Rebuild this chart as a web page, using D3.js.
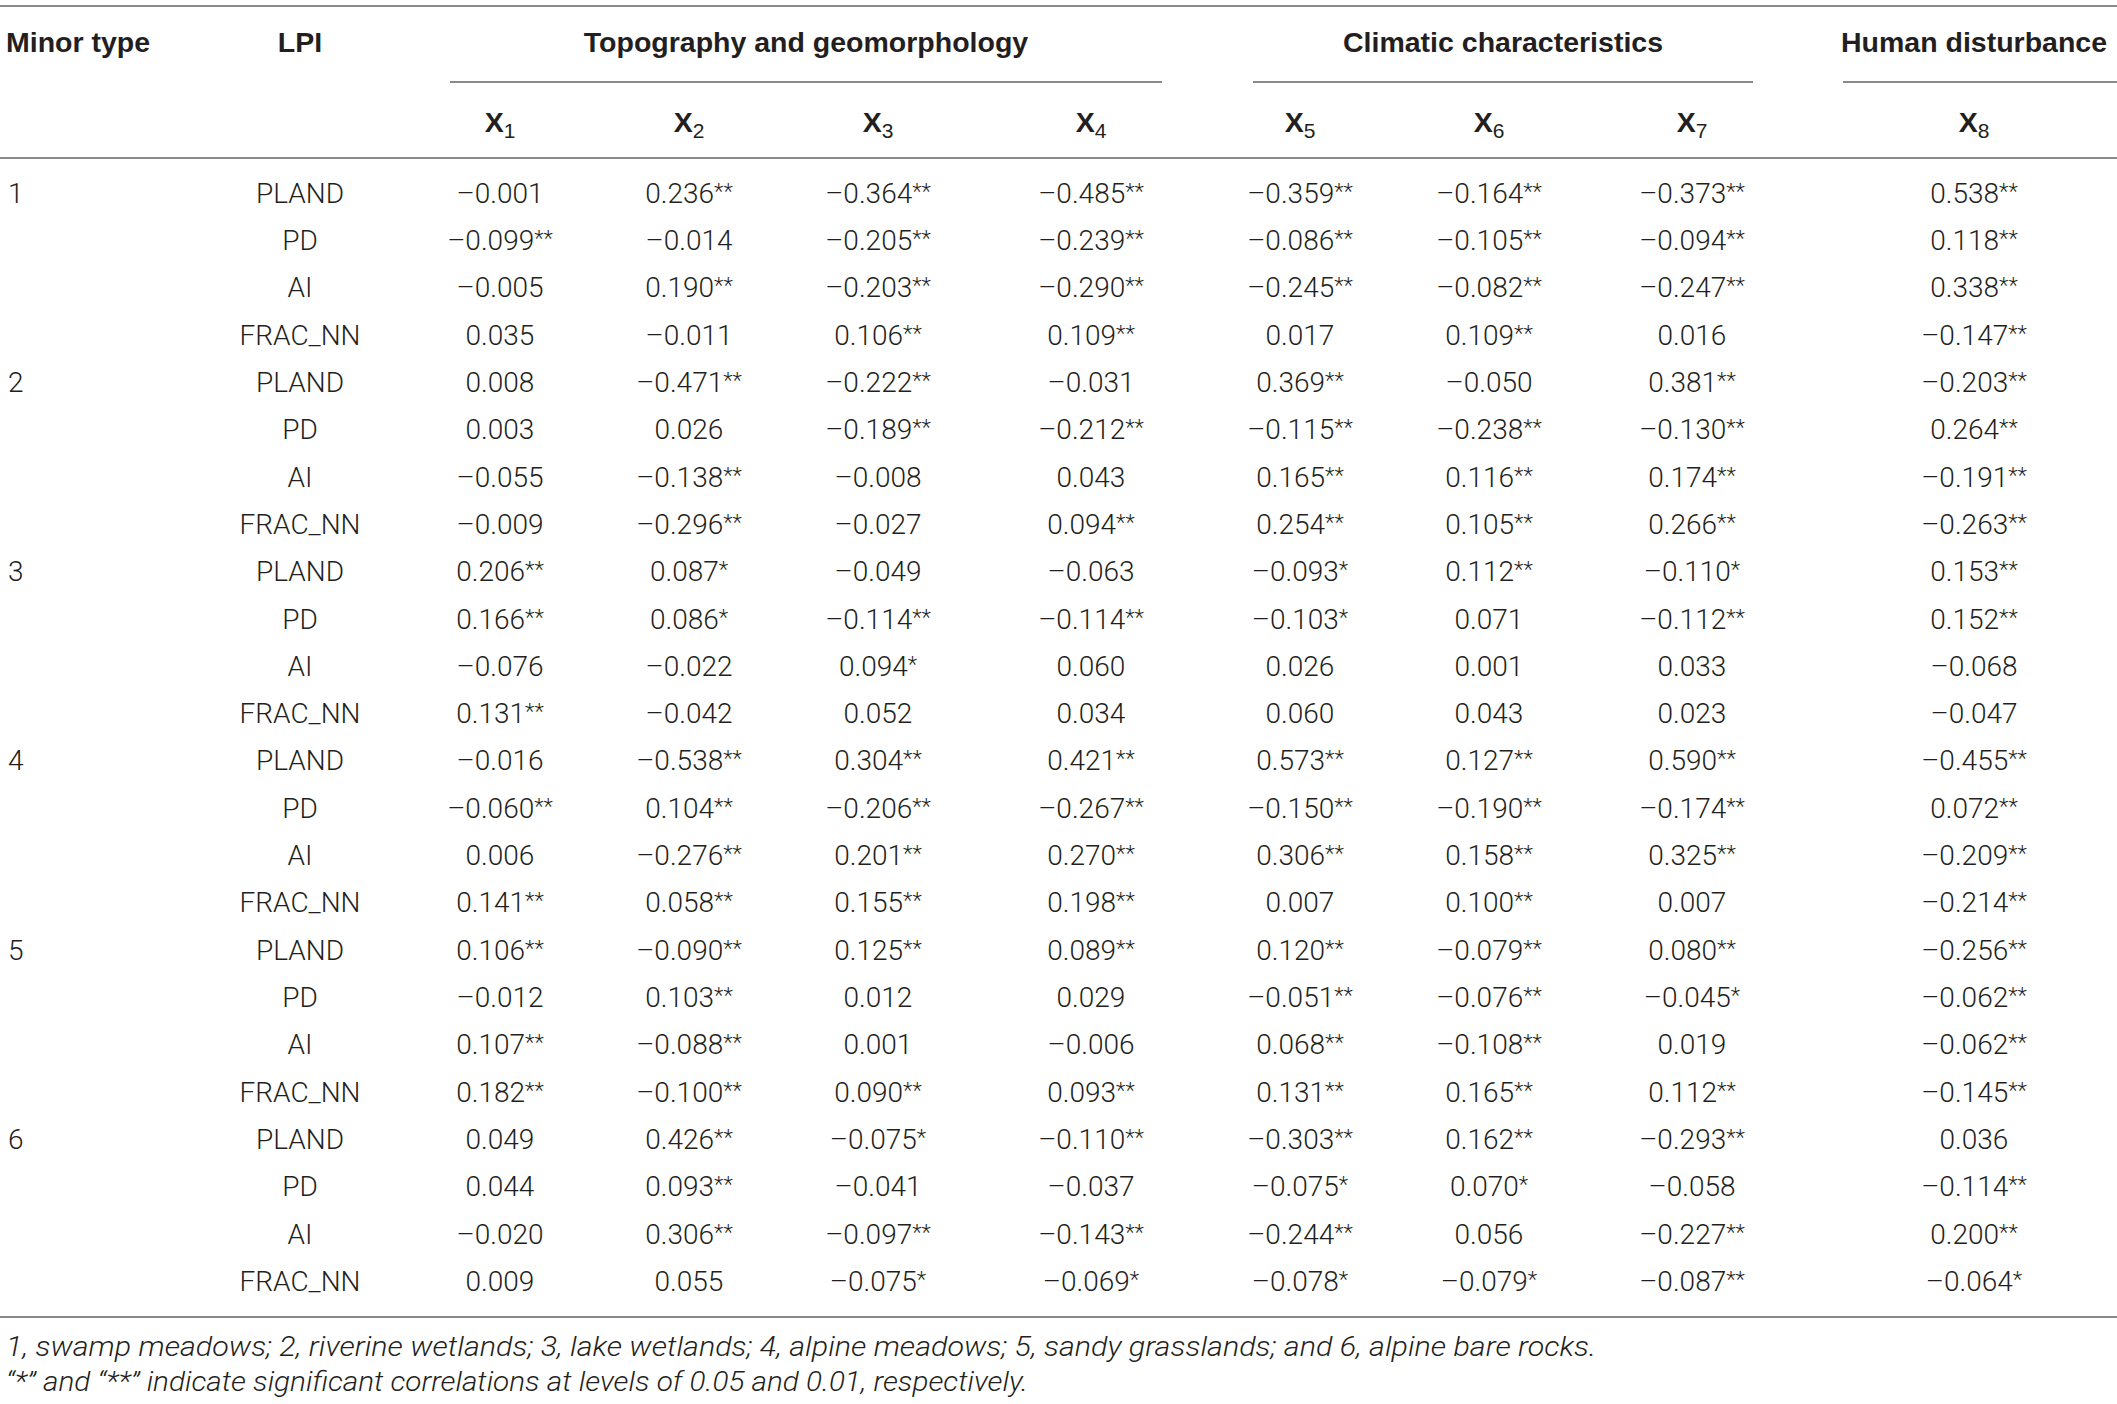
<!DOCTYPE html>
<html><head><meta charset="utf-8">
<script src="https://cdn.jsdelivr.net/npm/d3@7"></script>
<style>
html,body{margin:0;padding:0;background:#fff;}
svg{display:block;}
</style></head>
<body>
<svg id="chart" width="2117" height="1404"></svg>
<script>
// ---------- data ----------
const minorTypes = ["1","2","3","4","5","6"];
const lpiNames = ["PLAND","PD","AI","FRAC_NN"];
const variables = ["X1","X2","X3","X4","X5","X6","X7","X8"];
const groups = [
  {name:"Topography and geomorphology", from:"X1", to:"X4"},
  {name:"Climatic characteristics", from:"X5", to:"X7"},
  {name:"Human disturbance", from:"X8", to:"X8"}
];
// each row: 8 coefficients (X1..X8); significance marks in parallel arrays
const type1 = [
  [-0.001, 0.236,-0.364,-0.485,-0.359,-0.164,-0.373, 0.538],
  [-0.099,-0.014,-0.205,-0.239,-0.086,-0.105,-0.094, 0.118],
  [-0.005, 0.190,-0.203,-0.290,-0.245,-0.082,-0.247, 0.338],
  [ 0.035,-0.011, 0.106, 0.109, 0.017, 0.109, 0.016,-0.147]];
const sig1 = [
  ["","**","**","**","**","**","**","**"],
  ["**","","**","**","**","**","**","**"],
  ["","**","**","**","**","**","**","**"],
  ["","","**","**","","**","","**"]];
const type2 = [
  [ 0.008,-0.471,-0.222,-0.031, 0.369,-0.050, 0.381,-0.203],
  [ 0.003, 0.026,-0.189,-0.212,-0.115,-0.238,-0.130, 0.264],
  [-0.055,-0.138,-0.008, 0.043, 0.165, 0.116, 0.174,-0.191],
  [-0.009,-0.296,-0.027, 0.094, 0.254, 0.105, 0.266,-0.263]];
const sig2 = [
  ["","**","**","","**","","**","**"],
  ["","","**","**","**","**","**","**"],
  ["","**","","","**","**","**","**"],
  ["","**","","**","**","**","**","**"]];
const type3 = [
  [ 0.206, 0.087,-0.049,-0.063,-0.093, 0.112,-0.110, 0.153],
  [ 0.166, 0.086,-0.114,-0.114,-0.103, 0.071,-0.112, 0.152],
  [-0.076,-0.022, 0.094, 0.060, 0.026, 0.001, 0.033,-0.068],
  [ 0.131,-0.042, 0.052, 0.034, 0.060, 0.043, 0.023,-0.047]];
const sig3 = [
  ["**","*","","","*","**","*","**"],
  ["**","*","**","**","*","","**","**"],
  ["","","*","","","","",""],
  ["**","","","","","","",""]];
const type4 = [
  [-0.016,-0.538, 0.304, 0.421, 0.573, 0.127, 0.590,-0.455],
  [-0.060, 0.104,-0.206,-0.267,-0.150,-0.190,-0.174, 0.072],
  [ 0.006,-0.276, 0.201, 0.270, 0.306, 0.158, 0.325,-0.209],
  [ 0.141, 0.058, 0.155, 0.198, 0.007, 0.100, 0.007,-0.214]];
const sig4 = [
  ["","**","**","**","**","**","**","**"],
  ["**","**","**","**","**","**","**","**"],
  ["","**","**","**","**","**","**","**"],
  ["**","**","**","**","","**","","**"]];
const type5 = [
  [ 0.106,-0.090, 0.125, 0.089, 0.120,-0.079, 0.080,-0.256],
  [-0.012, 0.103, 0.012, 0.029,-0.051,-0.076,-0.045,-0.062],
  [ 0.107,-0.088, 0.001,-0.006, 0.068,-0.108, 0.019,-0.062],
  [ 0.182,-0.100, 0.090, 0.093, 0.131, 0.165, 0.112,-0.145]];
const sig5 = [
  ["**","**","**","**","**","**","**","**"],
  ["","**","","","**","**","*","**"],
  ["**","**","","","**","**","","**"],
  ["**","**","**","**","**","**","**","**"]];
const type6 = [
  [ 0.049, 0.426,-0.075,-0.110,-0.303, 0.162,-0.293, 0.036],
  [ 0.044, 0.093,-0.041,-0.037,-0.075, 0.070,-0.058,-0.114],
  [-0.020, 0.306,-0.097,-0.143,-0.244, 0.056,-0.227, 0.200],
  [ 0.009, 0.055,-0.075,-0.069,-0.078,-0.079,-0.087,-0.064]];
const sig6 = [
  ["","**","*","**","**","**","**",""],
  ["","**","","","*","*","","**"],
  ["","**","**","**","**","","**","**"],
  ["","","*","*","*","*","**","*"]];
const footnotes = [
  "1, swamp meadows; 2, riverine wetlands; 3, lake wetlands; 4, alpine meadows; 5, sandy grasslands; and 6, alpine bare rocks.",
  "\u201c*\u201d and \u201c**\u201d indicate significant correlations at levels of 0.05 and 0.01, respectively."
];

// ---------- layout ----------
const W = 2117;
const colKeys = ["LPI"].concat(variables);
const colCenters = [300, 500, 689, 878, 1091, 1300, 1489, 1692, 1974];
const xCol = d3.scaleOrdinal().domain(colKeys).range(colCenters);
const groupLineExt = {"Topography and geomorphology":[450,1162],"Climatic characteristics":[1253,1753],"Human disturbance":[1843,2117]};
const nRows = minorTypes.length * lpiNames.length;
const yRow = d3.scaleLinear().domain([0, nRows - 1]).range([193, 1281]);
const footLayout = [{y:1346, w:1590},{y:1381, w:1022}];

const ink = "#231f20", ruleColor = "#8a8a8a";
const bodyFont = "Roboto, 'Liberation Sans', sans-serif";
const headFont = "'Liberation Sans', Arial, sans-serif";

const svg = d3.select("#chart");
const fmt = d3.format(".3f");
const fmtVal = v => fmt(v).replace("-", "\u2013").replace("\u2212", "\u2013");

// rules
const rules = [
  {x1:0, x2:W, y:6},
  {x1:0, x2:W, y:158},
  {x1:0, x2:W, y:1317}
];
svg.selectAll("line.rule").data(rules).join("line").attr("class","rule")
  .attr("x1",d=>d.x1).attr("x2",d=>d.x2).attr("y1",d=>d.y).attr("y2",d=>d.y)
  .attr("stroke",ruleColor).attr("stroke-width",2);

// group header lines + titles
svg.selectAll("line.grp").data(groups).join("line").attr("class","grp")
  .attr("x1",d=>groupLineExt[d.name][0]).attr("x2",d=>groupLineExt[d.name][1])
  .attr("y1",82).attr("y2",82).attr("stroke",ruleColor).attr("stroke-width",2);
svg.selectAll("text.grp").data(groups).join("text").attr("class","grp")
  .attr("x",d=> d.from===d.to ? xCol(d.from) : (groupLineExt[d.name][0]+groupLineExt[d.name][1])/2)
  .attr("y",42).attr("dy","0.35em").attr("text-anchor","middle")
  .attr("font-family",headFont).attr("font-weight","bold").attr("font-size",28.5)
  .attr("fill",ink).text(d=>d.name);

// top-left headers
svg.append("text").attr("x",6).attr("y",42).attr("dy","0.35em")
  .attr("font-family",headFont).attr("font-weight","bold").attr("font-size",28.5)
  .attr("fill",ink).text("Minor type");
svg.append("text").attr("x",xCol("LPI")).attr("y",42).attr("dy","0.35em").attr("text-anchor","middle")
  .attr("font-family",headFont).attr("font-weight","bold").attr("font-size",28.5)
  .attr("fill",ink).text("LPI");

// variable sub-headers
const vh = svg.selectAll("text.var").data(variables).join("text").attr("class","var")
  .attr("x",d=>xCol(d)).attr("y",126).attr("dy","0.35em").attr("text-anchor","middle")
  .attr("font-family",headFont).attr("fill",ink);
vh.append("tspan").attr("font-weight","bold").attr("font-size",28.5).text("X");
vh.append("tspan").attr("font-size",21).attr("dy",6).text(d=>d.slice(1));

// body rows
const allTypes = [type1,type2,type3,type4,type5,type6];
const allSig = [sig1,sig2,sig3,sig4,sig5,sig6];
const rows = [];
minorTypes.forEach((t,ti)=>{
  lpiNames.forEach((l,li)=>{
    rows.push({type:t, lpi:l, idx:ti*lpiNames.length+li, first:li===0,
      cells: variables.map((v,vi)=>({v, val:allTypes[ti][li][vi], sig:allSig[ti][li][vi]}))});
  });
});

const rg = svg.selectAll("g.row").data(rows).join("g").attr("class","row")
  .attr("transform",d=>`translate(0,${yRow(d.idx)})`);
rg.filter(d=>d.first).append("text").attr("x",8).attr("dy","0.35em")
  .attr("font-family",bodyFont).attr("font-weight",300).attr("font-size",28)
  .attr("fill",ink).text(d=>d.type);
rg.append("text").attr("x",xCol("LPI")).attr("dy","0.35em").attr("text-anchor","middle")
  .attr("font-family",bodyFont).attr("font-weight",300).attr("font-size",28)
  .attr("fill",ink).text(d=>d.lpi);
const cell = rg.selectAll("text.cell").data(d=>d.cells).join("text").attr("class","cell")
  .attr("x",d=>xCol(d.v)).attr("dy","0.35em").attr("text-anchor","middle")
  .attr("font-family",bodyFont).attr("font-weight",300).attr("font-size",28).attr("fill",ink);
cell.append("tspan").text(d=>fmtVal(d.val));
cell.filter(d=>d.sig).append("tspan").attr("font-size",22).attr("dy",-4).text(d=>d.sig);

// footnotes
svg.selectAll("text.fn").data(footnotes).join("text").attr("class","fn")
  .attr("x",6).attr("y",(d,i)=>footLayout[i].y).attr("dy","0.35em")
  .attr("font-family",bodyFont).attr("font-weight",300).attr("font-style","italic")
  .attr("font-size",28).attr("fill",ink)
  .attr("textLength",(d,i)=>footLayout[i].w).attr("lengthAdjust","spacingAndGlyphs")
  .text(d=>d);
</script>
</body></html>
